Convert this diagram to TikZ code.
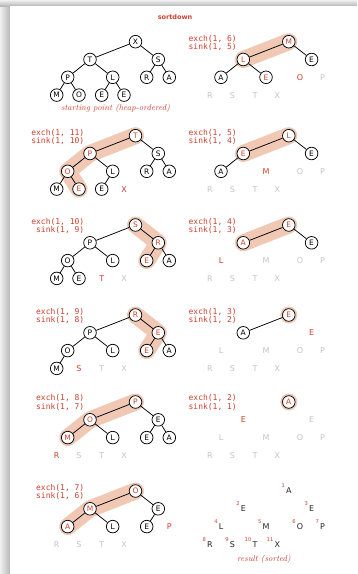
\documentclass[tikz,border=0pt]{standalone}
\usepackage{fontspec}
\newfontfamily\nf{DejaVu Sans}
\newfontfamily\cf{DejaVu Sans Mono}
\definecolor{myred}{RGB}{204,64,48}
\definecolor{hl}{RGB}{240,200,180}
\definecolor{lg}{RGB}{196,196,196}
\tikzset{
 hn/.style={circle, draw=black, fill=white, line width=0.75pt, inner sep=0pt, minimum size=12.6pt, font=\nf\fontsize{7.5}{7.5}\selectfont},
 hr/.style={hn, text=myred},
 pr/.style={inner sep=0pt, font=\nf\fontsize{8}{8}\selectfont, text=myred},
 pg/.style={inner sep=0pt, font=\nf\fontsize{8}{8}\selectfont, text=lg},
 conn/.style={line width=0.75pt},
 hlpath/.style={draw=hl, line width=17pt, line cap=round, line join=round},
 codetxt/.style={font=\cf\fontsize{8}{8.3}\selectfont, text=myred, align=right, inner sep=0pt, anchor=east},
 captxt/.style={font=\itshape\fontsize{8.5}{9}\selectfont, text=myred, inner sep=0pt},
 restxt/.style={inner sep=0pt, font=\nf\fontsize{8}{8}\selectfont, text=black!85},
 numtxt/.style={inner sep=0pt, font=\nf\fontsize{5.2}{5.2}\selectfont, text=myred, anchor=east},
}
\newcommand\mkgrid[3]{%
 \coordinate (#1-1) at ({#2+135.5},{#3});
 \coordinate (#1-2) at ({#2+90},{#3+17.8});
 \coordinate (#1-3) at ({#2+158.3},{#3+17.8});
 \coordinate (#1-4) at ({#2+67.7},{#3+35.6});
 \coordinate (#1-5) at ({#2+112.7},{#3+35.6});
 \coordinate (#1-6) at ({#2+146.7},{#3+35.6});
 \coordinate (#1-7) at ({#2+169.3},{#3+35.6});
 \coordinate (#1-8) at ({#2+56.7},{#3+53.4});
 \coordinate (#1-9) at ({#2+79},{#3+53.4});
 \coordinate (#1-10) at ({#2+101.7},{#3+53.4});
 \coordinate (#1-11) at ({#2+124},{#3+53.4});
}
\newcommand\panelnodes[2]{\foreach \k/\st/\lt in {#2} {\node[\st] (#1\k) at (#1-\k) {\lt};}}
\newcommand\paneledges[2]{\foreach \u/\v in {#2} {\draw[conn] (#1\u) -- (#1\v);}}
\begin{document}
\begin{tikzpicture}[x=1pt,y=-1pt]
\useasboundingbox (0,0) rectangle (357,574);
% frame
\shade[left color=black!6, right color=black!28] (0,0) rectangle (10,574);
\shade[top color=black!6, bottom color=black!28] (0,0) rectangle (357,6);
\fill[white] (10,6) rectangle (357,574);
\node[font=\nf\bfseries\fontsize{6.5}{7}\selectfont, text=myred] (title) at (175,16.7) {sortdown};
% grids
\mkgrid{a}{0}{41.7}
\mkgrid{b}{153.3}{41.7}
\mkgrid{c}{0}{135.7}
\mkgrid{d}{153.3}{135.7}
\mkgrid{e}{0}{225}
\mkgrid{f}{153.3}{225}
\mkgrid{g}{0}{315}
\mkgrid{h}{153.3}{315}
\mkgrid{i}{0}{402}
\mkgrid{j}{153.3}{402}
\mkgrid{k}{0}{491}
\mkgrid{l}{153.3}{491}
% highlights
\draw[hlpath] (b-1) -- (b-2);
\draw[hlpath] (c-1) -- (c-2) -- (c-4) -- (c-9);
\draw[hlpath] (d-1) -- (d-2);
\draw[hlpath] (e-1) -- (e-3) -- (e-6);
\draw[hlpath] (f-1) -- (f-2);
\draw[hlpath] (g-1) -- (g-3) -- (g-6);
\fill[hl] (h-1) circle (8.5pt);
\draw[hlpath] (i-1) -- (i-2) -- (i-4);
\fill[hl] (j-1) circle (8.5pt);
\draw[hlpath] (k-1) -- (k-2) -- (k-4);
% panel a
\panelnodes{a}{1/hn/X,2/hn/T,3/hn/S,4/hn/P,5/hn/L,6/hn/R,7/hn/A,8/hn/M,9/hn/O,10/hn/E,11/hn/E}
\paneledges{a}{1/2,1/3,2/4,2/5,3/6,3/7,4/8,4/9,5/10,5/11}
\node[captxt] (capa) at (115.5,108.3) {starting point (heap-ordered)};
% panel b
\panelnodes{b}{1/hr/M,2/hr/L,3/hn/E,4/hn/A,5/hr/E,6/pr/O,7/pg/P,8/pg/R,9/pg/S,10/pg/T,11/pg/X}
\paneledges{b}{1/2,1/3,2/4,2/5}
\node[codetxt] (lb) at (237,42.7) {exch(1, 6)\\sink(1, 5)};
% panel c
\panelnodes{c}{1/hr/T,2/hr/P,3/hn/S,4/hr/O,5/hn/L,6/hn/R,7/hn/A,8/hn/M,9/hr/E,10/hn/E,11/pr/X}
\paneledges{c}{1/2,1/3,2/4,2/5,3/6,3/7,4/8,4/9,5/10}
\node[codetxt] (lc) at (84.5,136.7) {exch(1, 11)\\sink(1, 10)};
% panel d
\panelnodes{d}{1/hr/L,2/hr/E,3/hn/E,4/hn/A,5/pr/M,6/pg/O,7/pg/P,8/pg/R,9/pg/S,10/pg/T,11/pg/X}
\paneledges{d}{1/2,1/3,2/4}
\node[codetxt] (ld) at (237,136.7) {exch(1, 5)\\sink(1, 4)};
% panel e
\panelnodes{e}{1/hr/S,2/hn/P,3/hr/R,4/hn/O,5/hn/L,6/hr/E,7/hn/A,8/hn/M,9/hn/E,10/pr/T,11/pg/X}
\paneledges{e}{1/2,1/3,2/4,2/5,3/6,3/7,4/8,4/9}
\node[codetxt] (le) at (84.5,226) {exch(1, 10)\\sink(1, 9)};
% panel f
\panelnodes{f}{1/hr/E,2/hr/A,3/hn/E,4/pr/L,5/pg/M,6/pg/O,7/pg/P,8/pg/R,9/pg/S,10/pg/T,11/pg/X}
\paneledges{f}{1/2,1/3}
\node[codetxt] (lf) at (237,226) {exch(1, 4)\\sink(1, 3)};
% panel g
\panelnodes{g}{1/hr/R,2/hn/P,3/hr/E,4/hn/O,5/hn/L,6/hr/E,7/hn/A,8/hn/M,9/pr/S,10/pg/T,11/pg/X}
\paneledges{g}{1/2,1/3,2/4,2/5,3/6,3/7,4/8}
\node[codetxt] (lg) at (84.5,316) {exch(1, 9)\\sink(1, 8)};
% panel h
\panelnodes{h}{1/hr/E,2/hn/A,3/pr/E,4/pg/L,5/pg/M,6/pg/O,7/pg/P,8/pg/R,9/pg/S,10/pg/T,11/pg/X}
\paneledges{h}{1/2}
\node[codetxt] (lh) at (237,316) {exch(1, 3)\\sink(1, 2)};
% panel i
\panelnodes{i}{1/hr/P,2/hr/O,3/hn/E,4/hr/M,5/hn/L,6/hn/E,7/hn/A,8/pr/R,9/pg/S,10/pg/T,11/pg/X}
\paneledges{i}{1/2,1/3,2/4,2/5,3/6,3/7}
\node[codetxt] (li) at (84.5,402.5) {exch(1, 8)\\sink(1, 7)};
% panel j
\panelnodes{j}{1/hr/A,2/pr/E,3/pg/E,4/pg/L,5/pg/M,6/pg/O,7/pg/P,8/pg/R,9/pg/S,10/pg/T,11/pg/X}
\node[codetxt] (lj) at (237,402.5) {exch(1, 2)\\sink(1, 1)};
% panel k
\panelnodes{k}{1/hr/O,2/hr/M,3/hn/E,4/hr/A,5/hn/L,6/hn/E,7/pr/P,8/pg/R,9/pg/S,10/pg/T,11/pg/X}
\paneledges{k}{1/2,1/3,2/4,2/5,3/6}
\node[codetxt] (lk) at (84.5,492) {exch(1, 7)\\sink(1, 6)};
% panel l (result)
\foreach \k/\lt in {1/A,2/E,3/E,4/L,5/M,6/O,7/P,8/R,9/S,10/T,11/X} {
  \node[restxt] (l\k) at (l-\k) {\lt};
  \node[numtxt] (ln\k) at ([xshift=-0.8pt,yshift=1.8pt]l\k.north west) {\k};
}
\node[captxt] (capl) at (264,559) {result (sorted)};
\end{tikzpicture}
\end{document}
